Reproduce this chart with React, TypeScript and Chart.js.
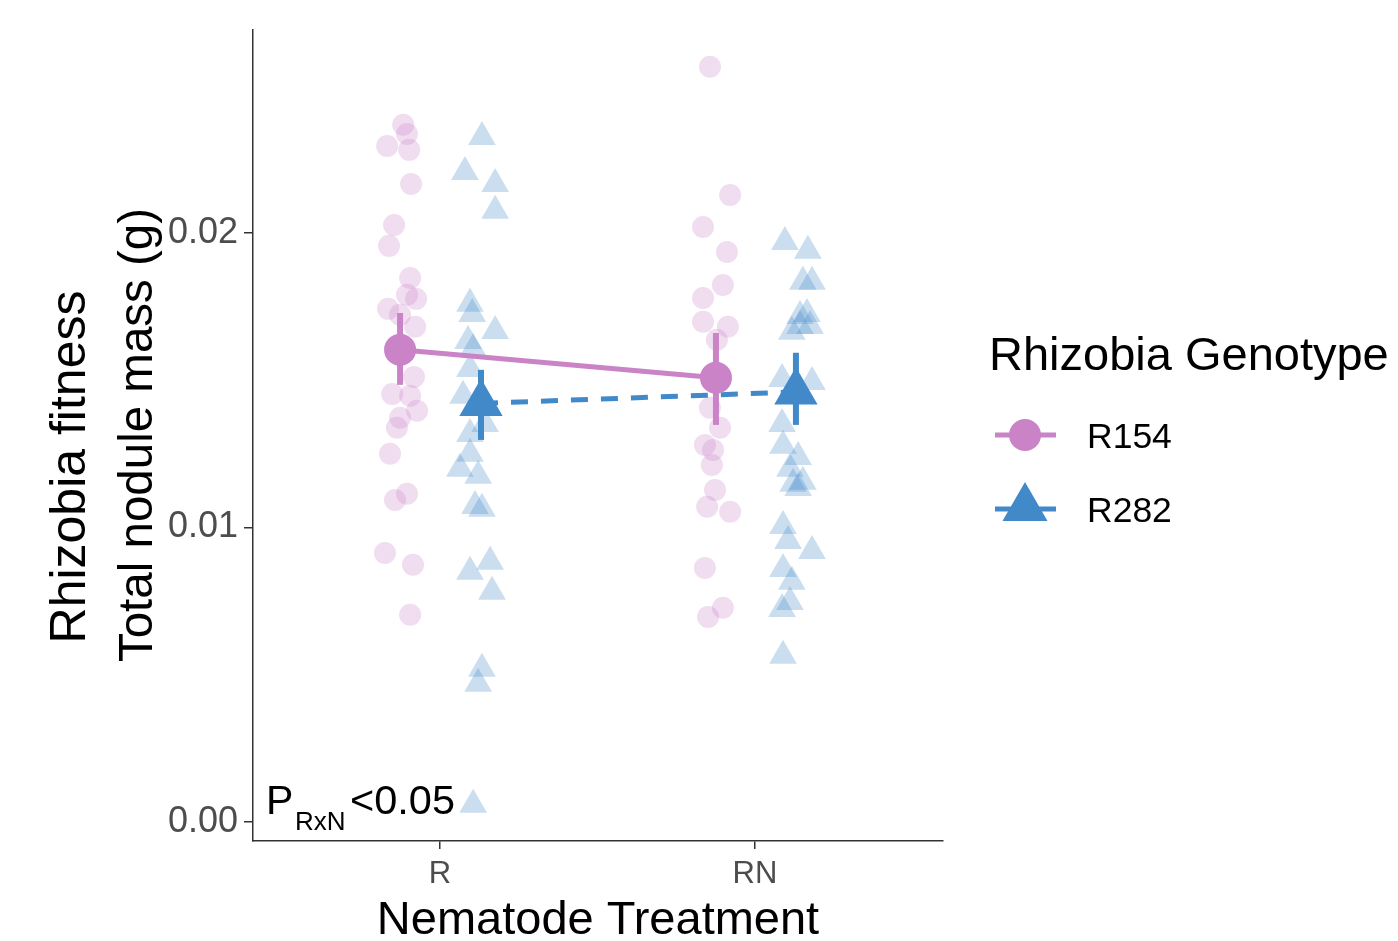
import React, { useEffect, useRef } from 'react';
import { Chart, registerables } from 'chart.js';

Chart.register(...registerables);

// ---------- data ----------
const categories = ['R', 'RN'];
const genotypes = ['R154', 'R282'];
const yTickValues = [0, 0.01, 0.02];

// jittered raw observations (x = category position + jitter)
const r154X = [
  0.883, 0.895, 0.832, 0.902, 0.908, 0.854, 0.838, 0.905, 0.895, 0.924, 0.835, 0.873, 0.921,
  0.917, 0.848, 0.905, 0.927, 0.873, 0.863, 0.841, 0.857, 0.895, 0.825, 0.914, 0.905,
  1.857, 1.921, 1.835, 1.911, 1.898, 1.835, 1.835, 1.914, 1.879, 1.857, 1.889, 1.841, 1.867,
  1.863, 1.873, 1.848, 1.921, 1.841, 1.898, 1.851,
];
const r154Y = [
  0.02367, 0.02336, 0.02295, 0.02282, 0.02166, 0.02027, 0.01956, 0.01847, 0.0179, 0.01776, 0.01742, 0.01722, 0.01681,
  0.01511, 0.01453, 0.01447, 0.01396, 0.01372, 0.01338, 0.0125, 0.01093, 0.01114, 0.00913, 0.00873, 0.00703,
  0.02564, 0.02129, 0.0202, 0.01935, 0.01823, 0.01779, 0.01698, 0.01681, 0.01637, 0.01406, 0.01338, 0.0128, 0.01263,
  0.01212, 0.01127, 0.0107, 0.01053, 0.00862, 0.00727, 0.00696,
];
const r282X = [
  1.133, 1.079, 1.175, 1.175, 1.095, 1.102, 1.175, 1.089, 1.105, 1.095, 1.073, 1.143, 1.095,
  1.095, 1.063, 1.121, 1.111, 1.133, 1.159, 1.095, 1.165, 1.133, 1.121, 1.105,
  2.095, 2.168, 2.152, 2.181, 2.165, 2.143, 2.143, 2.175, 2.117, 2.086, 2.181, 2.086, 2.089,
  2.137, 2.111, 2.152, 2.121, 2.137, 2.089, 2.105, 2.181, 2.089, 2.117, 2.111, 2.086, 2.089,
];
const r282Y = [
  0.02326, 0.02207, 0.02166, 0.02075, 0.01759, 0.01725, 0.01667, 0.01633, 0.01606, 0.01538, 0.01447, 0.01351, 0.01317,
  0.0125, 0.01199, 0.01175, 0.01073, 0.01063, 0.00883, 0.00849, 0.00781, 0.0052, 0.00469, 0.00058,
  0.01969, 0.01939, 0.01834, 0.01834, 0.01725, 0.01718, 0.01684, 0.01684, 0.01664, 0.01504, 0.01494, 0.01351, 0.01277,
  0.01239, 0.01199, 0.01155, 0.01148, 0.01134, 0.01005, 0.00954, 0.0092, 0.00859, 0.00815, 0.00747, 0.00723, 0.00564,
];

// group means and error bars (dodged positions)
const mean154X = [0.873, 1.876];
const mean154 = [0.01603, 0.01508];
const lo154 = [0.01484, 0.01348];
const hi154 = [0.01728, 0.0166];
const mean282X = [1.13, 2.13];
const mean282 = [0.01421, 0.0146];
const lo282 = [0.01297, 0.01348];
const hi282 = [0.01535, 0.01593];

// ---------- styles ----------
const PINK = '#C983C6';
const BLUE = '#4189C9';
const PINK_A = 'rgba(201,131,198,0.27)';
const BLUE_A = 'rgba(65,137,201,0.28)';
const FONT = "'Liberation Sans', Arial, sans-serif";

const extrasPlugin = {
  id: 'extras',
  afterDraw(chart: any) {
    const ctx = chart.ctx as CanvasRenderingContext2D;
    ctx.save();
    // y-axis titles
    ctx.fillStyle = '#000';
    ctx.textAlign = 'center';
    ctx.textBaseline = 'alphabetic';
    ctx.save();
    ctx.translate(85, 467);
    ctx.rotate(-Math.PI / 2);
    ctx.font = `50px ${FONT}`;
    ctx.fillText('Rhizobia fitness', 0, 0);
    ctx.restore();
    ctx.save();
    ctx.translate(152, 435);
    ctx.rotate(-Math.PI / 2);
    ctx.font = `47.5px ${FONT}`;
    ctx.fillText('Total nodule mass (g)', 0, 0);
    ctx.restore();

    // P annotation
    ctx.textAlign = 'left';
    ctx.font = `41px ${FONT}`;
    ctx.fillText('P', 266, 814);
    ctx.font = `26px ${FONT}`;
    ctx.fillText('RxN', 295, 830);
    ctx.font = `41.5px ${FONT}`;
    ctx.fillText('<0.05', 350, 814);

    // legend
    ctx.font = `47px ${FONT}`;
    ctx.fillText('Rhizobia Genotype', 989, 370);
    ctx.font = `35.5px ${FONT}`;
    ctx.fillText(genotypes[0], 1087, 448);
    ctx.fillText(genotypes[1], 1087, 522);

    ctx.lineWidth = 5;
    ctx.strokeStyle = PINK;
    ctx.beginPath();
    ctx.moveTo(995, 435);
    ctx.lineTo(1056, 435);
    ctx.stroke();
    ctx.fillStyle = PINK;
    ctx.beginPath();
    ctx.arc(1025, 435, 16, 0, Math.PI * 2);
    ctx.fill();

    ctx.strokeStyle = BLUE;
    ctx.beginPath();
    ctx.moveTo(995, 509);
    ctx.lineTo(1056, 509);
    ctx.stroke();
    ctx.fillStyle = BLUE;
    const r = 26;
    const cx = 1025;
    const cy = 508;
    ctx.beginPath();
    ctx.moveTo(cx, cy - r);
    ctx.lineTo(cx + r * Math.sin((2 * Math.PI) / 3), cy - r * Math.cos((2 * Math.PI) / 3));
    ctx.lineTo(cx + r * Math.sin((4 * Math.PI) / 3), cy - r * Math.cos((4 * Math.PI) / 3));
    ctx.closePath();
    ctx.fill();
    ctx.restore();
  },
};

export default function App() {
  const ref = useRef<HTMLCanvasElement | null>(null);

  useEffect(() => {
    if (!ref.current) return;
    const pts = (xs: number[], ys: number[]) => xs.map((x, i) => ({ x, y: ys[i] }));
    const errBar = (x: number, lo: number, hi: number, color: string) => ({
      type: 'line',
      data: [{ x, y: lo }, { x, y: hi }],
      showLine: true,
      borderColor: color,
      borderWidth: 6,
      pointRadius: 0,
      order: 2,
    });

    const chart = new Chart(ref.current, {
      type: 'scatter',
      data: {
        datasets: [
          {
            label: genotypes[0] + ' mean',
            data: pts(mean154X, mean154),
            showLine: true,
            borderColor: PINK,
            borderWidth: 5,
            pointStyle: 'circle',
            pointRadius: 16,
            pointBackgroundColor: PINK,
            pointBorderWidth: 0,
            order: 1,
          },
          {
            label: genotypes[1] + ' mean',
            data: pts(mean282X, mean282),
            showLine: true,
            borderColor: BLUE,
            borderWidth: 5,
            borderDash: [17, 13],
            pointStyle: 'triangle',
            pointRadius: 25,
            pointBackgroundColor: BLUE,
            pointBorderWidth: 0,
            order: 1,
          },
          errBar(mean154X[0], lo154[0], hi154[0], PINK),
          errBar(mean154X[1], lo154[1], hi154[1], PINK),
          errBar(mean282X[0], lo282[0], hi282[0], BLUE),
          errBar(mean282X[1], lo282[1], hi282[1], BLUE),
          {
            label: genotypes[0],
            data: pts(r154X, r154Y),
            pointStyle: 'circle',
            pointRadius: 11,
            backgroundColor: PINK_A,
            pointBackgroundColor: PINK_A,
            pointBorderWidth: 0,
            order: 5,
          },
          {
            label: genotypes[1],
            data: pts(r282X, r282Y),
            pointStyle: 'triangle',
            pointRadius: 16,
            backgroundColor: BLUE_A,
            pointBackgroundColor: BLUE_A,
            pointBorderWidth: 0,
            order: 5,
          },
        ] as any,
      },
      options: {
        animation: false,
        responsive: false,
        devicePixelRatio: 1,
        events: [],
        layout: { autoPadding: false, padding: { left: 0, top: 30, right: 455, bottom: 0 } },
        plugins: { legend: { display: false }, tooltip: { enabled: false } },
        scales: {
          x: {
            type: 'linear',
            min: 0.406,
            max: 2.597,
            afterBuildTicks: (scale: any) => {
              scale.ticks = categories.map((_, i) => ({ value: i + 1 }));
            },
            afterFit: (scale: any) => {
              scale.height = 100;
            },
            ticks: {
              callback: (v: any) => categories[Math.round(Number(v)) - 1] ?? '',
              color: '#4D4D4D',
              font: { family: FONT, size: 31 },
              padding: 7,
              maxRotation: 0,
            },
            grid: { display: true, drawOnChartArea: false, drawTicks: true, tickLength: 8, color: '#333', lineWidth: 1.5 },
            border: { display: true, color: '#333', width: 1.5 },
            title: {
              display: true,
              text: 'Nematode Treatment',
              color: '#000',
              font: { family: FONT, size: 47, lineHeight: 0.87 },
              padding: { top: 0, bottom: 0 },
            },
          },
          y: {
            type: 'linear',
            min: -0.00065,
            max: 0.02689,
            afterBuildTicks: (scale: any) => {
              scale.ticks = yTickValues.map((v) => ({ value: v }));
            },
            afterFit: (scale: any) => {
              scale.width = 253;
            },
            ticks: {
              callback: (v: any) => Number(v).toFixed(2),
              color: '#4D4D4D',
              font: { family: FONT, size: 36 },
              padding: 6,
            },
            grid: { display: true, drawOnChartArea: false, drawTicks: true, tickLength: 9, color: '#333', lineWidth: 1.5 },
            border: { display: true, color: '#333', width: 1.5 },
          },
        },
      },
      plugins: [extrasPlugin],
    } as any);
    return () => chart.destroy();
  }, []);

  return (
    <div style={{ position: 'fixed', left: 0, top: 0, width: 1398, height: 941, background: '#fff' }}>
      <canvas ref={ref} width={1398} height={941} style={{ display: 'block' }} />
    </div>
  );
}
